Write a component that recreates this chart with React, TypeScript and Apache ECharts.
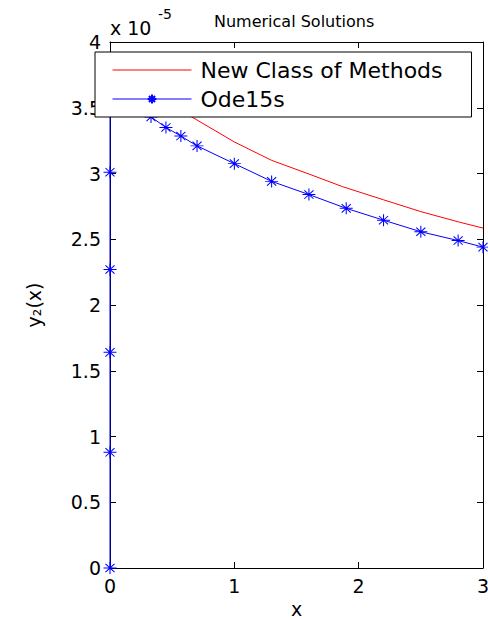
import React, { useEffect, useRef } from "react";
import * as echarts from "echarts";

const xTicks = [0, 1, 2, 3];
const yTicks = [0, 0.5, 1, 1.5, 2, 2.5, 3, 3.5, 4];

const newClassX = [0.45, 0.64, 1.0, 1.3, 1.6, 1.87, 2.2, 2.5, 2.81, 3.0];
const newClassY = [3.58, 3.44, 3.24, 3.1, 2.996, 2.9, 2.8, 2.71, 2.63, 2.585];

const odeX = [0, 0, 0, 0, 0, 0, 0.15, 0.33, 0.45, 0.57, 0.7, 1.0, 1.3, 1.6, 1.9, 2.2, 2.5, 2.8, 3.0];
const odeY = [0, 0.88, 1.64, 2.27, 3.01, 3.58, 3.5, 3.43, 3.35, 3.285, 3.21, 3.075, 2.94, 2.84, 2.735, 2.645, 2.557, 2.49, 2.44];

const seriesNames = ["New Class of Methods", "Ode15s"];

const FONT = "DejaVu Sans";
const STAR = "path://M0,-10L0,10M-10,0L10,0M-7,-7L7,7M-7,7L7,-7";

export default function App() {
  const ref = useRef<HTMLDivElement>(null);
  useEffect(() => {
    if (!ref.current) return;
    const chart = echarts.init(ref.current, null, { renderer: "svg" });
    const axisCommon = {
      type: "value" as const,
      axisLine: { show: true, onZero: false, lineStyle: { color: "#000", width: 1 } },
      axisTick: { show: true, inside: true, length: 6, lineStyle: { color: "#000", width: 1 } },
      splitLine: { show: false },
    };
    chart.setOption({
      animation: false,
      backgroundColor: "#fff",
      title: {
        text: "Numerical Solutions",
        left: 214,
        top: 13,
        padding: 0,
        textStyle: { fontFamily: FONT, fontSize: 16, fontWeight: "normal", color: "#000" },
      },
      graphic: [
        {
          type: "text",
          left: 110,
          top: 18,
          style: { text: "x 10", fontFamily: FONT, fontSize: 19, fill: "#000" },
        },
        {
          type: "text",
          left: 158,
          top: 7,
          style: { text: "-5", fontFamily: FONT, fontSize: 14, fill: "#000" },
        },
      ],
      legend: {
        orient: "vertical",
        left: 95,
        top: 52,
        padding: [7, 29, 7, 17],
        itemGap: 7,
        itemWidth: 79,
        itemHeight: 11,
        backgroundColor: "#fff",
        borderColor: "#000",
        borderWidth: 1,
        borderRadius: 0,
        selectedMode: false,
        lineStyle: { width: 1 },
        textStyle: { fontFamily: FONT, fontSize: 22, lineHeight: 22, color: "#000", padding: [0, 0, 0, 4] },
        data: [
          { name: seriesNames[0], itemStyle: { opacity: 0 } },
          { name: seriesNames[1] },
        ],
      },
      grid: { left: 110, right: 5, top: 42, bottom: 52, outerBoundsMode: "none", containLabel: false },
      xAxis: [
        {
          ...axisCommon,
          position: "bottom",
          min: 0,
          max: 3,
          interval: 1,
          name: "x",
          nameLocation: "middle",
          nameGap: 30,
          nameTextStyle: { fontFamily: FONT, fontSize: 19, color: "#000" },
          axisLabel: {
            show: true,
            margin: 8,
            fontFamily: FONT,
            fontSize: 19,
            color: "#000",
            showMinLabel: true,
            showMaxLabel: true,
            formatter: (v: number) => (xTicks.includes(v) ? String(v) : ""),
          },
        },
        {
          ...axisCommon,
          position: "top",
          min: 0,
          max: 3,
          interval: 1,
          axisLabel: { show: false },
        },
      ],
      yAxis: [
        {
          ...axisCommon,
          position: "left",
          min: 0,
          max: 4,
          interval: 0.5,
          name: "y₂(x)",
          nameLocation: "middle",
          nameRotate: 90,
          nameGap: 67,
          nameTextStyle: { fontFamily: FONT, fontSize: 19, color: "#000" },
          axisLabel: {
            show: true,
            margin: 9,
            fontFamily: FONT,
            fontSize: 19,
            color: "#000",
            showMinLabel: true,
            showMaxLabel: true,
            formatter: (v: number) => (yTicks.includes(v) ? String(v) : ""),
          },
        },
        {
          ...axisCommon,
          position: "right",
          min: 0,
          max: 4,
          interval: 0.5,
          axisLabel: { show: false },
        },
      ],
      series: [
        {
          name: seriesNames[0],
          type: "line",
          xAxisIndex: 0,
          yAxisIndex: 0,
          data: newClassX.map((x, i) => [x, newClassY[i]]),
          symbol: "none",
          lineStyle: { color: "#ff0000", width: 1 },
          itemStyle: { color: "#ff0000" },
          z: 2,
        },
        {
          name: seriesNames[1],
          type: "line",
          xAxisIndex: 0,
          yAxisIndex: 0,
          data: odeX.map((x, i) => [x, odeY[i]]),
          symbol: STAR,
          symbolSize: [13, 12],
          lineStyle: { color: "#0000ff", width: 1 },
          itemStyle: { color: "#0000ff", borderColor: "#0000ff", borderWidth: 1 },
          z: 3,
        },
      ],
    });
    return () => chart.dispose();
  }, []);
  return (
    <div
      ref={ref}
      style={{ position: "absolute", left: 0, top: 0, width: 488, height: 620 }}
    />
  );
}
